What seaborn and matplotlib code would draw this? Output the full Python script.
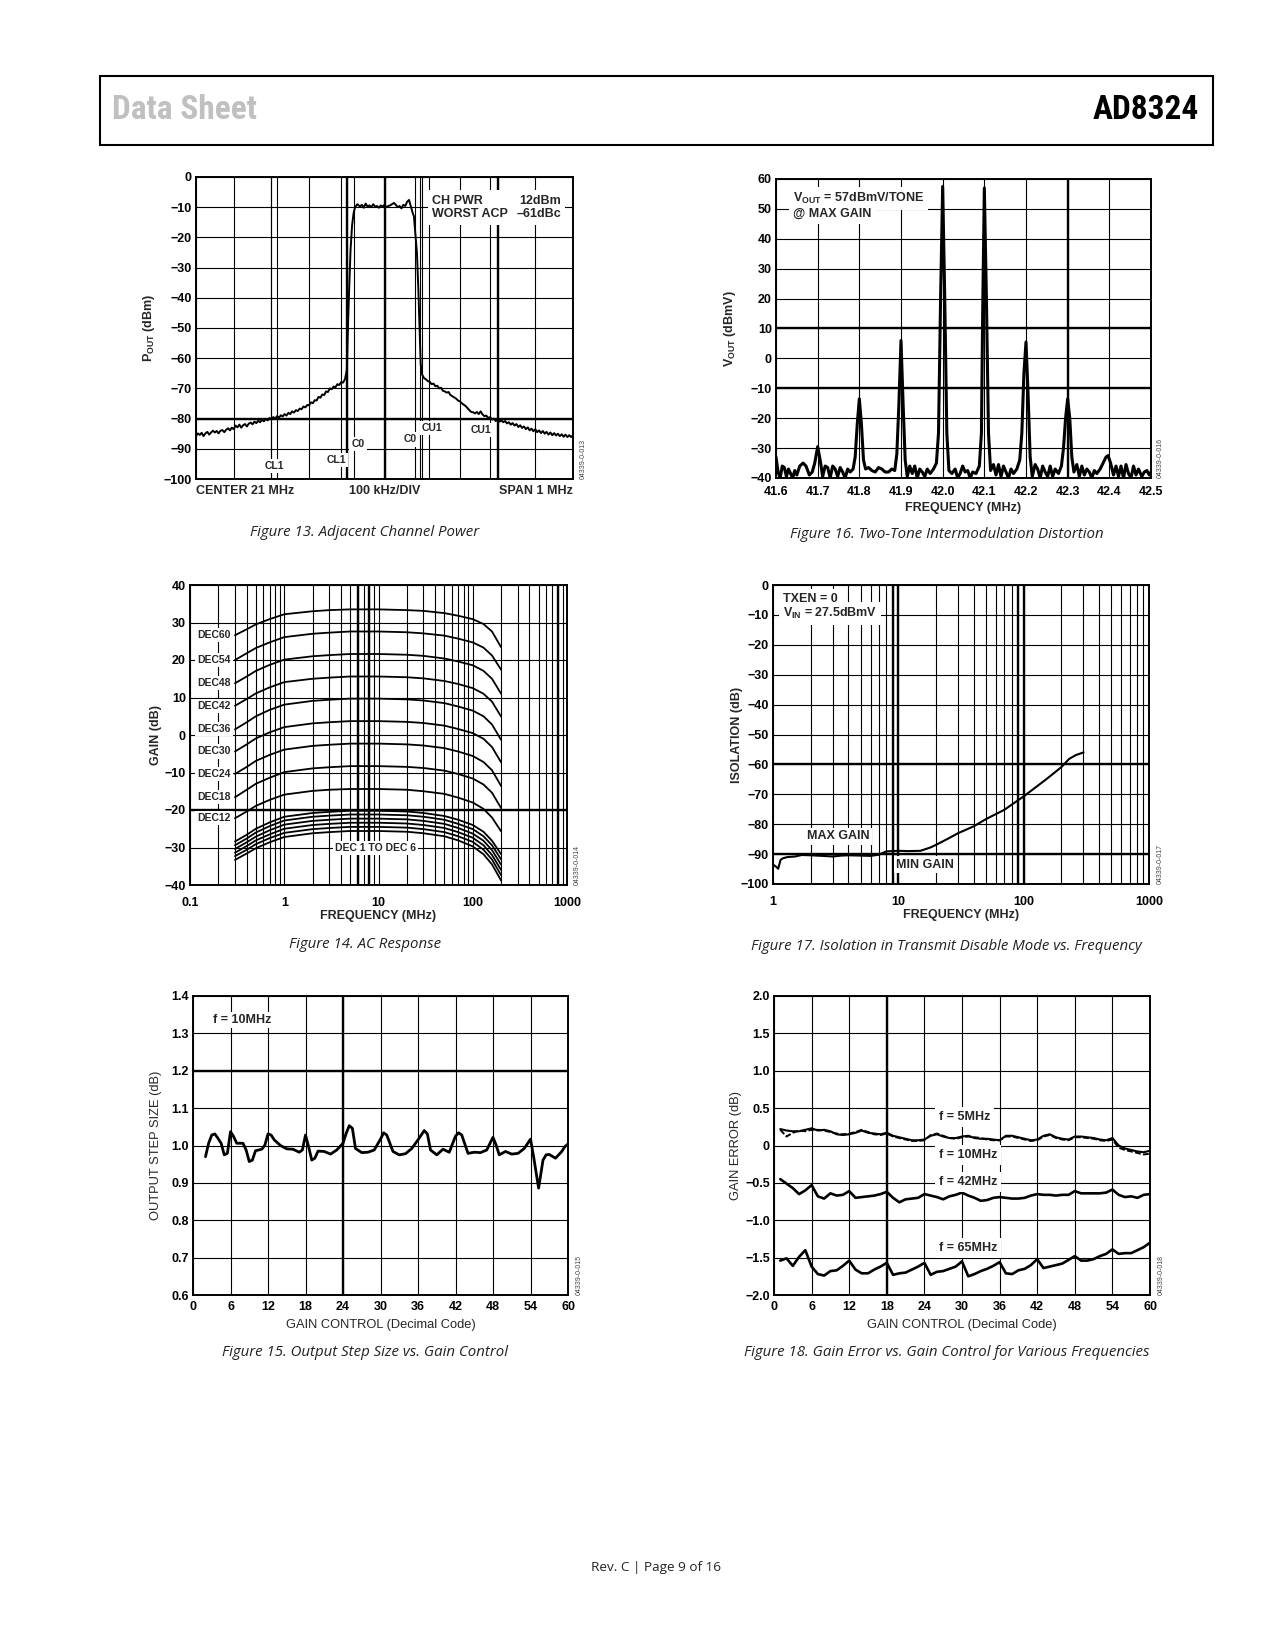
import os
import matplotlib
matplotlib.use("Agg")
import matplotlib.pyplot as plt
from matplotlib import font_manager
from matplotlib.font_manager import FontProperties
from matplotlib.patches import Rectangle
import matplotlib.ticker as mticker
import pandas as pd
import seaborn as sns

# ---------------- Figure 13: adjacent channel power (x in 100 kHz divisions) ----------------
acp_trace = [
    (0.00, -85.8), (0.05, -84.9), (0.10, -85.4), (0.15, -84.7), (0.20, -85.8), (0.25, -84.9),
    (0.30, -84.4), (0.35, -85.3), (0.40, -84.6), (0.45, -84.0), (0.50, -84.6), (0.55, -84.1),
    (0.60, -84.9), (0.65, -84.0), (0.70, -83.8), (0.75, -84.5), (0.80, -83.7), (0.85, -83.2),
    (0.90, -83.9), (0.95, -83.0), (1.00, -83.5), (1.05, -82.3), (1.10, -82.9), (1.15, -82.0),
    (1.20, -83.0), (1.25, -82.2), (1.30, -81.8), (1.35, -82.6), (1.40, -81.7), (1.45, -81.3),
    (1.50, -81.9), (1.55, -81.0), (1.60, -81.5), (1.65, -80.7), (1.70, -81.2), (1.75, -80.4),
    (1.80, -80.9), (1.85, -80.1), (1.90, -80.6), (1.95, -79.8), (2.00, -80.2), (2.05, -79.5),
    (2.10, -80.0), (2.15, -79.2), (2.20, -79.7), (2.25, -78.9), (2.30, -79.3), (2.35, -78.5),
    (2.40, -79.0), (2.45, -78.1), (2.50, -78.5), (2.55, -77.6), (2.60, -78.0), (2.65, -77.2),
    (2.70, -77.5), (2.75, -76.7), (2.80, -76.9), (2.85, -76.0), (2.90, -76.3), (2.95, -75.5),
    (3.00, -75.6), (3.05, -74.6), (3.10, -74.9), (3.15, -73.9), (3.20, -74.0), (3.25, -72.8),
    (3.30, -73.1), (3.35, -72.0), (3.40, -72.2), (3.45, -71.0), (3.50, -71.2), (3.55, -70.0),
    (3.60, -70.3), (3.65, -69.4), (3.70, -69.6), (3.75, -68.6), (3.80, -68.9), (3.85, -67.9),
    (3.90, -68.1), (3.95, -67.0), (4.00, -64.0), (4.03, -50.0), (4.06, -38.0), (4.10, -24.0),
    (4.14, -16.0), (4.18, -12.0), (4.22, -10.0), (4.28, -9.0), (4.35, -9.8), (4.40, -9.2),
    (4.45, -10.2), (4.50, -8.8), (4.55, -9.8), (4.60, -9.4), (4.65, -10.0), (4.70, -9.0),
    (4.75, -9.8), (4.80, -9.6), (4.85, -10.2), (4.90, -9.4), (4.95, -9.8), (5.00, -9.2),
    (5.05, -10.0), (5.10, -9.6), (5.15, -9.4), (5.20, -9.0), (5.25, -8.6), (5.30, -9.2),
    (5.35, -10.0), (5.40, -9.6), (5.45, -10.4), (5.50, -9.2), (5.55, -9.6), (5.60, -8.2),
    (5.65, -7.6), (5.70, -9.8), (5.75, -12.0), (5.78, -13.0), (5.82, -19.0), (5.86, -25.0),
    (5.90, -38.0), (5.93, -50.0), (5.96, -62.0), (6.00, -65.5), (6.05, -66.6), (6.10, -67.0),
    (6.15, -67.6), (6.20, -67.8), (6.25, -68.6), (6.30, -68.4), (6.35, -69.3), (6.40, -69.1),
    (6.45, -70.0), (6.50, -69.8), (6.55, -70.8), (6.60, -71.0), (6.65, -71.4), (6.70, -71.2),
    (6.75, -72.2), (6.80, -72.6), (6.85, -73.0), (6.90, -73.4), (6.95, -74.0), (7.00, -74.3),
    (7.05, -74.9), (7.10, -75.4), (7.15, -75.8), (7.20, -76.5), (7.25, -77.2), (7.30, -77.8),
    (7.35, -77.9), (7.40, -78.3), (7.45, -77.8), (7.50, -78.5), (7.55, -77.6), (7.60, -78.6),
    (7.65, -79.2), (7.70, -79.0), (7.75, -79.8), (7.80, -79.5), (7.85, -80.3), (7.90, -80.0),
    (7.95, -80.8), (8.00, -80.4), (8.05, -81.0), (8.10, -80.6), (8.15, -81.2), (8.20, -80.8),
    (8.25, -81.6), (8.30, -81.2), (8.35, -82.0), (8.40, -81.5), (8.45, -82.3), (8.50, -81.8),
    (8.55, -82.8), (8.60, -82.2), (8.65, -83.1), (8.70, -82.6), (8.75, -83.5), (8.80, -82.9),
    (8.85, -83.9), (8.90, -83.3), (8.95, -84.2), (9.00, -83.5), (9.05, -84.5), (9.10, -83.9),
    (9.15, -84.8), (9.20, -84.1), (9.25, -85.0), (9.30, -84.4), (9.35, -85.3), (9.40, -84.6),
    (9.45, -85.5), (9.50, -84.8), (9.55, -85.6), (9.60, -85.0), (9.65, -85.8), (9.70, -85.2),
    (9.75, -86.0), (9.80, -85.3), (9.85, -86.1), (9.90, -85.5), (9.95, -86.1), (10.0, -85.6),
]
acp_div = [p[0] for p in acp_trace]
acp_dbm = [p[1] for p in acp_trace]
acp_yticks = [0, -10, -20, -30, -40, -50, -60, -70, -80, -90, -100]
acp_ylabels = ["0", "−10", "−20", "−30", "−40", "−50", "−60", "−70", "−80", "−90", "−100"]
acp_divs = [0, 1, 2, 3, 4, 5, 6, 7, 8, 9, 10]
acp_markers = [2.0, 2.16, 3.84, 4.2, 5.8, 5.95, 6.17, 7.8]

# ---------------- Figure 16: two-tone IMD spectrum ----------------
imd_trace = [
    (41.600, -33), (41.605, -38), (41.610, -40), (41.615, -36), (41.620, -36.5), (41.625, -39.5),
    (41.630, -37), (41.635, -38.5), (41.640, -40), (41.645, -37.5), (41.650, -39), (41.657, -36),
    (41.665, -35), (41.672, -36), (41.680, -39), (41.687, -38), (41.693, -35), (41.700, -29.5),
    (41.706, -34), (41.712, -39.5), (41.718, -36), (41.724, -36.5), (41.730, -40), (41.736, -36),
    (41.742, -37), (41.748, -39.5), (41.754, -36.5), (41.760, -38), (41.766, -40), (41.772, -37),
    (41.778, -38), (41.785, -37), (41.790, -33), (41.795, -22), (41.800, -13.5), (41.805, -22),
    (41.810, -34), (41.815, -37), (41.822, -36.5), (41.830, -37.5), (41.838, -38), (41.846, -36.5),
    (41.854, -37), (41.862, -38), (41.870, -38), (41.878, -37), (41.885, -37.5), (41.890, -32),
    (41.895, -15), (41.900, 6), (41.905, -15), (41.910, -34), (41.915, -39.5), (41.921, -36),
    (41.927, -38.5), (41.933, -36), (41.939, -40), (41.945, -37), (41.951, -38), (41.957, -39.5),
    (41.963, -37), (41.970, -38.5), (41.978, -37), (41.985, -35), (41.990, -25), (41.995, 20),
    (42.000, 57.5), (42.005, 20), (42.010, -25), (42.015, -37.5), (42.022, -38.5), (42.030, -37),
    (42.036, -40), (42.042, -38.5), (42.048, -36), (42.054, -38), (42.060, -37.5), (42.066, -40),
    (42.072, -38), (42.080, -38.5), (42.088, -36), (42.093, -25), (42.096, 15), (42.100, 57),
    (42.105, 20), (42.110, -25), (42.115, -37.5), (42.122, -35.5), (42.128, -39), (42.134, -35.5),
    (42.140, -39.5), (42.146, -36), (42.152, -38), (42.158, -40), (42.164, -37), (42.170, -38.5),
    (42.178, -37), (42.185, -34), (42.190, -25), (42.195, -5), (42.200, 5.5), (42.205, -12),
    (42.210, -33), (42.215, -39.5), (42.222, -35.5), (42.228, -37), (42.234, -40), (42.240, -36),
    (42.246, -38), (42.252, -39.5), (42.258, -36), (42.264, -39.5), (42.270, -37), (42.278, -38.5),
    (42.285, -36), (42.290, -30), (42.295, -20), (42.300, -13.5), (42.305, -20), (42.310, -33),
    (42.315, -38), (42.322, -35.5), (42.328, -39.5), (42.334, -36), (42.340, -39), (42.346, -37),
    (42.352, -38), (42.358, -40), (42.364, -37.5), (42.370, -38.5), (42.378, -37), (42.385, -35),
    (42.392, -33), (42.397, -32.5), (42.403, -35), (42.410, -39), (42.416, -36), (42.422, -39.5),
    (42.428, -36), (42.434, -40), (42.440, -35.5), (42.446, -38.5), (42.452, -40), (42.458, -36),
    (42.464, -39), (42.470, -37), (42.478, -39.5), (42.484, -38), (42.490, -37.5), (42.496, -39),
    (42.500, -38),
]
imd_f = [p[0] for p in imd_trace]
imd_v = [p[1] for p in imd_trace]
imd_xticks = [41.6, 41.7, 41.8, 41.9, 42.0, 42.1, 42.2, 42.3, 42.4, 42.5]
imd_xlabels = ["41.6", "41.7", "41.8", "41.9", "42.0", "42.1", "42.2", "42.3", "42.4", "42.5"]
imd_yticks = [60, 50, 40, 30, 20, 10, 0, -10, -20, -30, -40]
imd_ylabels = ["60", "50", "40", "30", "20", "10", "0", "−10", "−20", "−30", "−40"]

# ---------------- Figure 14: AC response ----------------
ac_freq = [0.3, 0.4, 0.5, 0.7, 1, 2, 3, 5, 10, 20, 30, 50, 70, 100, 130, 160, 200]
ac_gain = {
    "DEC60": [26.6, 28.2, 29.5, 30.9, 32.2, 33.0, 33.3, 33.5, 33.5, 33.3, 33.1, 32.5, 31.8, 30.9, 29.6, 27.6, 23.4],
    "DEC54": [20.0, 21.8, 23.2, 24.7, 26.1, 27.0, 27.3, 27.6, 27.6, 27.4, 27.1, 26.5, 25.7, 24.7, 23.3, 21.2, 17.4],
    "DEC48": [13.8, 15.6, 17.1, 18.7, 20.1, 21.0, 21.3, 21.6, 21.6, 21.4, 21.1, 20.4, 19.6, 18.6, 17.1, 15.0, 11.0],
    "DEC42": [7.8, 9.6, 11.1, 12.7, 14.1, 15.0, 15.3, 15.6, 15.6, 15.4, 15.1, 14.4, 13.6, 12.5, 11.0, 8.9, 4.9],
    "DEC36": [1.5, 3.4, 5.0, 6.7, 8.1, 9.1, 9.4, 9.7, 9.7, 9.5, 9.2, 8.5, 7.6, 6.5, 5.0, 2.8, -1.3],
    "DEC30": [-4.4, -2.5, -0.9, 0.7, 2.1, 3.1, 3.4, 3.7, 3.7, 3.5, 3.2, 2.5, 1.6, 0.5, -1.0, -3.2, -7.3],
    "DEC24": [-10.4, -8.5, -6.9, -5.3, -3.9, -2.9, -2.6, -2.3, -2.3, -2.5, -2.8, -3.5, -4.4, -5.6, -7.2, -9.4, -13.6],
    "DEC18": [-16.6, -14.6, -13.0, -11.4, -9.9, -8.9, -8.6, -8.3, -8.3, -8.5, -8.8, -9.5, -10.4, -11.6, -13.2, -15.4, -19.5],
    "DEC12": [-22.2, -20.4, -18.9, -17.3, -15.9, -14.9, -14.6, -14.4, -14.4, -14.6, -15.0, -15.7, -16.7, -18.0, -19.7, -22.0, -25.7],
    "DEC6": [-28.4, -26.6, -25.0, -23.3, -21.8, -20.8, -20.5, -20.2, -20.2, -20.4, -20.8, -21.6, -22.6, -24.0, -25.8, -28.2, -31.8],
    "DEC5": [-29.4, -27.6, -26.0, -24.3, -22.8, -21.8, -21.5, -21.2, -21.2, -21.4, -21.8, -22.6, -23.7, -25.1, -27.0, -29.4, -33.2],
    "DEC4": [-30.4, -28.6, -27.1, -25.4, -23.9, -22.9, -22.6, -22.3, -22.3, -22.5, -22.9, -23.7, -24.8, -26.3, -28.2, -30.7, -34.6],
    "DEC3": [-31.4, -29.6, -28.1, -26.5, -25.0, -24.0, -23.7, -23.4, -23.4, -23.6, -24.0, -24.8, -25.9, -27.4, -29.4, -32.0, -36.0],
    "DEC2": [-32.3, -30.6, -29.1, -27.5, -26.1, -25.1, -24.8, -24.5, -24.5, -24.7, -25.1, -25.9, -27.0, -28.5, -30.6, -33.2, -37.4],
    "DEC1": [-33.3, -31.6, -30.2, -28.6, -27.2, -26.2, -25.9, -25.6, -25.6, -25.8, -26.2, -27.0, -28.1, -29.7, -31.8, -34.5, -38.8],
}
ac_labelled = ["DEC60", "DEC54", "DEC48", "DEC42", "DEC36", "DEC30", "DEC24", "DEC18", "DEC12"]
ac_yticks = [40, 30, 20, 10, 0, -10, -20, -30, -40]
ac_ylabels = ["40", "30", "20", "10", "0", "−10", "−20", "−30", "−40"]
ac_xticks = [0.1, 1, 10, 100, 1000]
ac_xlabels = ["0.1", "1", "10", "100", "1000"]

# ---------------- Figure 17: isolation in transmit disable mode ----------------
iso_f = [1.0, 1.05, 1.1, 1.15, 1.2, 1.3, 1.5, 1.7, 2, 2.5, 3, 3.5, 4, 5, 6, 7, 8, 10, 12, 15,
         18, 20, 25, 30, 40, 50, 70, 100, 150, 200, 230, 260, 300]
iso_db = [-93.5, -94.1, -94.9, -91.9, -91.4, -91.0, -90.8, -90.3, -90.4, -90.6, -90.8, -90.5, -90.4,
          -90.5, -90.6, -90.2, -89.1, -88.9, -89.0, -88.9, -87.8, -86.9, -84.8, -83.0, -80.7, -78.3,
          -75.2, -70.7, -65.1, -60.9, -58.2, -56.9, -56.0]
iso_yticks = [0, -10, -20, -30, -40, -50, -60, -70, -80, -90, -100]
iso_ylabels = ["0", "−10", "−20", "−30", "−40", "−50", "−60", "−70", "−80", "−90", "−100"]
iso_xticks = [1, 10, 100, 1000]
iso_xlabels = ["1", "10", "100", "1000"]

# ---------------- Figure 15: output step size ----------------
step_code = [2, 2.5, 3, 3.5, 4, 4.5, 5, 5.5, 6, 6.5, 7, 8, 8.5, 9, 9.5, 10, 11, 11.5, 12, 12.5,
             13, 14, 15, 16, 17, 17.5, 18, 18.5, 19, 19.5, 20, 21, 22, 23, 24, 24.5, 25, 25.5, 26, 27,
             28, 29, 30, 30.5, 31, 32, 33, 34, 35, 36, 37, 37.5, 38, 39, 40, 41, 42, 42.5, 43, 44,
             45, 46, 47, 48, 48.5, 49, 50, 51, 52, 53, 54, 54.5, 55, 55.3, 56, 56.5, 57, 58, 59, 59.5, 60]
step_db = [0.970, 1.006, 1.028, 1.031, 1.019, 1.006, 0.975, 0.979, 1.037, 1.024,
           1.006, 1.006, 0.988, 0.957, 0.961, 0.986, 0.990, 1.001, 1.031, 1.028,
           1.015, 1.000, 0.991, 0.990, 0.982, 0.988, 1.028, 0.997, 0.961, 0.966,
           0.985, 0.984, 0.977, 0.988, 1.006, 1.032, 1.053, 1.046, 0.992, 0.981,
           0.982, 0.988, 1.017, 1.034, 1.028, 0.984, 0.975, 0.978, 0.992, 1.015,
           1.040, 1.031, 0.988, 0.975, 0.990, 0.982, 1.025, 1.034, 1.028, 0.979,
           0.982, 0.981, 0.988, 1.022, 1.001, 0.975, 0.984, 0.977, 0.979, 0.992,
           1.017, 0.970, 0.917, 0.886, 0.961, 0.975, 0.976, 0.966, 0.984, 0.997, 1.004]
step_yticks = [1.4, 1.3, 1.2, 1.1, 1.0, 0.9, 0.8, 0.7, 0.6]
step_ylabels = ["1.4", "1.3", "1.2", "1.1", "1.0", "0.9", "0.8", "0.7", "0.6"]
code_ticks = [0, 6, 12, 18, 24, 30, 36, 42, 48, 54, 60]

# ---------------- Figure 18: gain error ----------------
err_code = list(range(1, 61))
err_5 = [0.22, 0.20, 0.19, 0.19, 0.21, 0.23, 0.20, 0.21, 0.19, 0.15, 0.14, 0.15, 0.17, 0.20, 0.17,
         0.16, 0.15, 0.17, 0.13, 0.11, 0.09, 0.07, 0.07, 0.08, 0.13, 0.15, 0.12, 0.10, 0.10, 0.12,
         0.13, 0.10, 0.09, 0.09, 0.08, 0.07, 0.13, 0.13, 0.11, 0.09, 0.07, 0.08, 0.13, 0.15, 0.11,
         0.09, 0.08, 0.12, 0.12, 0.11, 0.10, 0.08, 0.07, 0.10, 0.00, -0.04, -0.06, -0.08, -0.09, -0.07]
err_10 = [0.21, 0.12, 0.17, 0.20, 0.19, 0.21, 0.21, 0.20, 0.18, 0.16, 0.15, 0.16, 0.18, 0.21, 0.18,
          0.15, 0.14, 0.16, 0.12, 0.10, 0.08, 0.06, 0.06, 0.07, 0.14, 0.16, 0.13, 0.10, 0.09, 0.11,
          0.12, 0.11, 0.10, 0.08, 0.07, 0.07, 0.12, 0.12, 0.10, 0.08, 0.06, 0.07, 0.12, 0.14, 0.10,
          0.08, 0.07, 0.11, 0.11, 0.10, 0.09, 0.07, 0.06, 0.08, -0.03, -0.06, -0.08, -0.10, -0.12, -0.11]
err_42 = [-0.45, -0.51, -0.57, -0.65, -0.60, -0.53, -0.68, -0.71, -0.64, -0.67, -0.66, -0.61, -0.70,
          -0.69, -0.68, -0.67, -0.65, -0.62, -0.70, -0.76, -0.72, -0.71, -0.70, -0.65, -0.67, -0.69,
          -0.72, -0.68, -0.66, -0.63, -0.67, -0.70, -0.74, -0.73, -0.70, -0.69, -0.70, -0.71, -0.71,
          -0.70, -0.67, -0.65, -0.66, -0.66, -0.67, -0.66, -0.66, -0.61, -0.64, -0.64, -0.64, -0.64,
          -0.63, -0.59, -0.66, -0.69, -0.68, -0.70, -0.66, -0.65]
err_65 = [-1.54, -1.51, -1.61, -1.49, -1.40, -1.62, -1.72, -1.74, -1.68, -1.67, -1.61, -1.54, -1.66,
          -1.71, -1.71, -1.66, -1.62, -1.57, -1.73, -1.71, -1.70, -1.66, -1.62, -1.57, -1.73, -1.69,
          -1.68, -1.65, -1.62, -1.55, -1.75, -1.72, -1.68, -1.65, -1.61, -1.56, -1.71, -1.72, -1.67,
          -1.65, -1.60, -1.52, -1.64, -1.62, -1.60, -1.58, -1.53, -1.48, -1.54, -1.54, -1.52, -1.48,
          -1.45, -1.39, -1.45, -1.44, -1.44, -1.40, -1.36, -1.30]
err_yticks = [2.0, 1.5, 1.0, 0.5, 0, -0.5, -1.0, -1.5, -2.0]
err_ylabels = ["2.0", "1.5", "1.0", "0.5", "0", "−0.5", "−1.0", "−1.5", "−2.0"]

# ---------------- style ----------------
sns.set_theme(style="white")
plt.rcParams["font.family"] = ["Liberation Sans", "DejaVu Sans"]
plt.rcParams["font.weight"] = "bold"
plt.rcParams["mathtext.fontset"] = "custom"
plt.rcParams["mathtext.rm"] = "Liberation Sans:bold"
plt.rcParams["mathtext.bf"] = "Liberation Sans:bold"
plt.rcParams["axes.unicode_minus"] = True


def pick_header_font():
    # a condensed bold Latin sans face, if one is installed
    by_stem = {}
    for f in font_manager.fontManager.ttflist:
        stem = os.path.splitext(os.path.basename(f.fname))[0].lower()
        by_stem.setdefault(stem, f.fname)
    for stem in ["notosans-condensedbold", "liberationsansnarrow-bold", "robotocondensed-bold",
                 "opensans-condensedbold", "notosans-semicondensedbold", "dejavusanscondensed-bold"]:
        if stem in by_stem:
            return by_stem[stem]
    return None


cond_path = pick_header_font()
if cond_path:
    head_fp = FontProperties(fname=cond_path, size=24)
else:
    head_fp = FontProperties(family="Liberation Sans", weight="bold", size=21)
cap_font = ["Open Sans", "DejaVu Sans"]

W, H = 1275, 1650
fig = plt.figure(figsize=(W / 100, H / 100), dpi=100)
fig.patch.set_facecolor("white")

WHITE = dict(facecolor="white", edgecolor="none", pad=1.5)
BOX = dict(facecolor="white", edgecolor="none", pad=3)
TICK = 9
LAB = 9
ANN = 9
SMALL = 7.5


def panel(l, t, r, b, xpad=4.5):
    ax = fig.add_axes([l / W, 1 - b / H, (r - l) / W, (b - t) / H])
    ax.set_facecolor("white")
    for s in ax.spines.values():
        s.set_visible(True)
        s.set_color("black")
        s.set_linewidth(1.4)
        s.set_zorder(4)
    ax.tick_params(which="both", length=0, labelsize=TICK, colors="black")
    ax.tick_params(axis="x", which="both", pad=xpad)
    ax.tick_params(axis="y", which="both", pad=3)
    return ax


def lines(ax, xs=(), ys=(), lw=0.8):
    for x in xs:
        ax.axvline(x, color="black", lw=lw, zorder=1)
    for y in ys:
        ax.axhline(y, color="black", lw=lw, zorder=1)


def tag(ax, text, x=1.028):
    ax.text(x, 0.0, text, transform=ax.transAxes, rotation=90, ha="center", va="bottom",
            fontsize=5, fontweight="normal", color="#444444")


def caption(x, y, text):
    fig.text(x / W, 1 - y / H, text, ha="center", va="center", fontsize=10.8, style="italic",
             fontweight="normal", family=cap_font, color="#222222")


log_minor = [m * d for d in [0.1, 1, 10, 100] for m in range(2, 10)]

# ---------------- Figure 13 ----------------
ax = panel(196, 177, 573, 479)
lines(ax, xs=acp_divs, ys=acp_yticks)
lines(ax, xs=acp_markers)
lines(ax, xs=[4.0, 5.0, 8.0], ys=[-80], lw=1.7)
sns.lineplot(x=acp_div, y=acp_dbm, ax=ax, color="black", linewidth=1.4, sort=False,
             estimator=None, zorder=3)
ax.set_xlim(0, 10)
ax.set_ylim(-100, 0)
ax.set_xticks([])
ax.set_yticks(acp_yticks, labels=acp_ylabels)
ax.set_ylabel(r"P$_{\mathbf{OUT}}$ (dBm)", fontsize=LAB, fontweight="bold")
ax.yaxis.set_label_coords(-0.104, 0.5)
ax.text(6.27, -10.1, "CH PWR\nWORST ACP", ha="left", va="center", fontsize=ANN,
        linespacing=1.2, bbox=BOX, zorder=5)
ax.text(9.69, -10.1, "12dBm\n–61dBc", ha="right", va="center", fontsize=ANN,
        linespacing=1.2, bbox=BOX, zorder=5)
for txt, x, y in [("CL1", 2.08, -95.8), ("CL1", 3.73, -93.8), ("C0", 4.30, -88.5),
                  ("C0", 5.67, -86.9), ("CU1", 6.27, -83.2), ("CU1", 7.57, -83.8)]:
    ax.text(x, y, txt, ha="center", va="center", fontsize=SMALL, bbox=WHITE, zorder=5)
ax.text(0, -0.02, "CENTER 21 MHz", transform=ax.transAxes, ha="left", va="top", fontsize=LAB)
ax.text(0.5, -0.02, "100 kHz/DIV", transform=ax.transAxes, ha="center", va="top", fontsize=LAB)
ax.text(1, -0.02, "SPAN 1 MHz", transform=ax.transAxes, ha="right", va="top", fontsize=LAB)
tag(ax, "04339-0-013")
caption(365, 533, "Figure 13. Adjacent Channel Power")

# ---------------- Figure 16 ----------------
ax = panel(776, 179, 1151, 478, xpad=6)
lines(ax, xs=imd_xticks, ys=imd_yticks)
lines(ax, xs=[42.3], ys=[10, -10], lw=1.7)
sns.lineplot(x=imd_f, y=imd_v, ax=ax, color="black", linewidth=2.2, sort=False,
             estimator=None, zorder=3)
ax.set_xlim(41.6, 42.5)
ax.set_ylim(-40, 60)
ax.set_xticks(imd_xticks, labels=imd_xlabels)
ax.set_yticks(imd_yticks, labels=imd_ylabels)
ax.set_xlabel("FREQUENCY (MHz)", fontsize=LAB, fontweight="bold")
ax.set_ylabel(r"V$_{\mathbf{OUT}}$ (dBmV)", fontsize=LAB, fontweight="bold")
ax.xaxis.set_label_coords(0.5, -0.08)
ax.yaxis.set_label_coords(-0.102, 0.5)
ax.text(41.64, 53.5, r"V$_{\mathbf{OUT}}$ = 57dBmV/TONE", ha="left", va="center", fontsize=ANN,
        bbox=BOX, zorder=5)
ax.text(41.64, 48.2, "@ MAX GAIN", ha="left", va="center", fontsize=ANN, bbox=BOX, zorder=5)
tag(ax, "04339-0-016", 1.024)
caption(947, 534, "Figure 16. Two-Tone Intermodulation Distortion")

# ---------------- Figure 14 ----------------
ax = panel(190, 585, 567, 885, xpad=8.5)
ax.set_xscale("log")
lines(ax, xs=ac_xticks + log_minor, ys=ac_yticks)
lines(ax, xs=[6, 8, 800], ys=[-20], lw=1.7)
ac_df = pd.DataFrame([(name, f, g) for name, vals in ac_gain.items()
                      for f, g in zip(ac_freq, vals)], columns=["curve", "freq", "gain"])
sns.lineplot(data=ac_df, x="freq", y="gain", units="curve", estimator=None, sort=False,
             ax=ax, color="black", linewidth=1.3, zorder=3)
ax.set_xlim(0.1, 1000)
ax.set_ylim(-40, 40)
ax.set_xticks(ac_xticks, labels=ac_xlabels)
ax.xaxis.set_minor_formatter(mticker.NullFormatter())
ax.set_yticks(ac_yticks, labels=ac_ylabels)
ax.set_xlabel("FREQUENCY (MHz)", fontsize=LAB, fontweight="bold")
ax.set_ylabel("GAIN (dB)", fontsize=LAB, fontweight="bold")
ax.xaxis.set_label_coords(0.5, -0.083)
ax.yaxis.set_label_coords(-0.075, 0.5)
for name in ac_labelled:
    ax.text(0.18, ac_gain[name][0], name, ha="center", va="center", fontsize=SMALL,
            bbox=WHITE, zorder=5)
ax.text(9.3, -30.2, "DEC 1 TO DEC 6", ha="center", va="center", fontsize=SMALL,
        bbox=WHITE, zorder=5)
tag(ax, "04339-0-014", 1.027)
caption(365, 945, "Figure 14. AC Response")

# ---------------- Figure 17 ----------------
ax = panel(773, 585, 1149, 884, xpad=8.5)
ax.set_xscale("log")
lines(ax, xs=iso_xticks + [m * d for d in [1, 10, 100] for m in range(2, 10)], ys=iso_yticks)
lines(ax, xs=[9, 10, 90, 100], ys=[-60, -90], lw=1.7)
sns.lineplot(x=iso_f, y=iso_db, ax=ax, color="black", linewidth=1.5, sort=False,
             estimator=None, zorder=3)
ax.set_xlim(1, 1000)
ax.set_ylim(-100, 0)
ax.set_xticks(iso_xticks, labels=iso_xlabels)
ax.xaxis.set_minor_formatter(mticker.NullFormatter())
ax.set_yticks(iso_yticks, labels=iso_ylabels)
ax.set_xlabel("FREQUENCY (MHz)", fontsize=LAB, fontweight="bold")
ax.set_ylabel("ISOLATION (dB)", fontsize=LAB, fontweight="bold")
ax.xaxis.set_label_coords(0.5, -0.084)
ax.yaxis.set_label_coords(-0.081, 0.5)
ax.text(1.2, -4.6, "TXEN = 0", ha="left", va="center", fontsize=ANN, bbox=BOX, zorder=5)
ax.text(1.2, -9.6, r"V$_{\mathbf{IN}}$ = 27.5dBmV", ha="left", va="center", fontsize=ANN,
        bbox=BOX, zorder=5)
ax.text(1.87, -84.1, "MAX GAIN", ha="left", va="center", fontsize=ANN, bbox=WHITE, zorder=5)
ax.text(9.64, -93.5, "MIN GAIN", ha="left", va="center", fontsize=ANN, bbox=WHITE, zorder=5)
tag(ax, "04339-0-017", 1.03)
caption(946, 946, "Figure 17. Isolation in Transmit Disable Mode vs. Frequency")

# ---------------- Figure 15 ----------------
ax = panel(193, 996, 568, 1295)
lines(ax, xs=code_ticks, ys=step_yticks)
lines(ax, xs=[24], ys=[1.2], lw=1.7)
sns.lineplot(x=step_code, y=step_db, ax=ax, color="black", linewidth=2.0, sort=False,
             estimator=None, zorder=3)
ax.set_xlim(0, 60)
ax.set_ylim(0.6, 1.4)
ax.set_xticks(code_ticks, labels=[str(c) for c in code_ticks])
ax.set_yticks(step_yticks, labels=step_ylabels)
ax.set_xlabel("GAIN CONTROL (Decimal Code)", fontsize=9.3, fontweight="normal")
ax.set_ylabel("OUTPUT STEP SIZE (dB)", fontsize=9.3, fontweight="normal")
ax.xaxis.set_label_coords(0.5, -0.079)
ax.yaxis.set_label_coords(-0.084, 0.5)
ax.text(3.2, 1.335, "f = 10MHz", ha="left", va="center", fontsize=ANN, bbox=WHITE, zorder=5)
tag(ax, "04339-0-015", 1.03)
caption(365, 1352, "Figure 15. Output Step Size vs. Gain Control")

# ---------------- Figure 18 ----------------
ax = panel(774, 996, 1150, 1295)
lines(ax, xs=code_ticks, ys=err_yticks)
lines(ax, xs=[18], lw=1.7)
sns.lineplot(x=err_code, y=err_5, ax=ax, color="black", linewidth=1.5, zorder=3)
sns.lineplot(x=err_code, y=err_10, ax=ax, color="black", linewidth=1.4, linestyle=(0, (3, 1.2)),
             zorder=3)
sns.lineplot(x=err_code, y=err_42, ax=ax, color="black", linewidth=1.9, zorder=3)
sns.lineplot(x=err_code, y=err_65, ax=ax, color="black", linewidth=1.9, zorder=3)
ax.set_xlim(0, 60)
ax.set_ylim(-2.0, 2.0)
ax.set_xticks(code_ticks, labels=[str(c) for c in code_ticks])
ax.set_yticks(err_yticks, labels=err_ylabels)
ax.set_xlabel("GAIN CONTROL (Decimal Code)", fontsize=9.3, fontweight="normal")
ax.set_ylabel("GAIN ERROR (dB)", fontsize=9.3, fontweight="normal")
ax.xaxis.set_label_coords(0.5, -0.08)
ax.yaxis.set_label_coords(-0.084, 0.5)
for txt, y in [("f = 5MHz", 0.385), ("f = 10MHz", -0.127), ("f = 42MHz", -0.49), ("f = 65MHz", -1.373)]:
    ax.text(26.3, y, txt, ha="left", va="center", fontsize=ANN, bbox=BOX, zorder=5)
tag(ax, "04339-0-018", 1.03)
caption(947, 1353, "Figure 18. Gain Error vs. Gain Control for Various Frequencies")

# ---------------- page header / footer ----------------
fig.add_artist(Rectangle((100 / W, 1 - 145 / H), 1113 / W, 69 / H, transform=fig.transFigure,
                         fill=False, edgecolor="black", linewidth=1.5))
fig.text(112 / W, 1 - 110 / H, "Data Sheet", ha="left", va="center",
         fontproperties=head_fp, color="#c0c0c0")
fig.text(1199 / W, 1 - 110 / H, "AD8324", ha="right", va="center",
         fontproperties=head_fp, color="black")
fig.text(656 / W, 1 - 1567 / H, "Rev. C | Page 9 of 16", ha="center", va="center", fontsize=9.7,
         family=cap_font, fontweight="normal", color="#222222")

fig.savefig("out.png", dpi=100, facecolor="white")
